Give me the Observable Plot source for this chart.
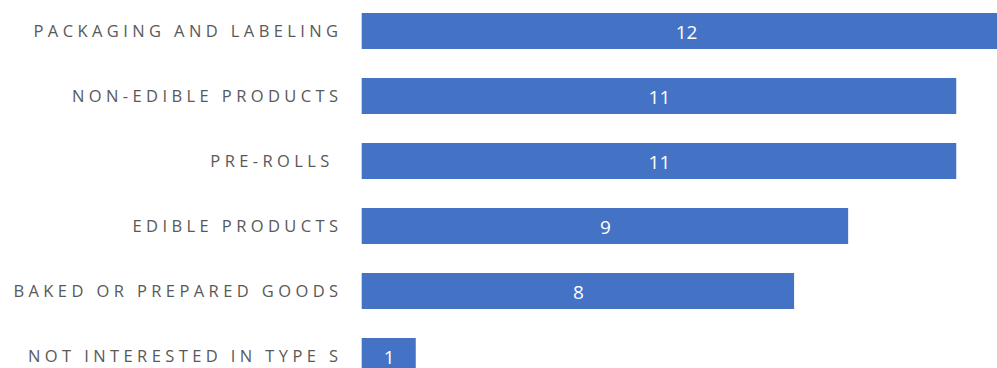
<!DOCTYPE html>
<html>
<head>
<meta charset="utf-8">
<script src="https://cdn.jsdelivr.net/npm/d3@7"></script>
<script src="https://cdn.jsdelivr.net/npm/@observablehq/plot@0.6"></script>
<style>
  html, body { margin: 0; padding: 0; background: #fff; overflow: hidden; }
  #chart svg { font-family: "Open Sans", sans-serif; }
  #chart g[aria-label="y-axis tick label"] text { letter-spacing: 4.4px; }
</style>
</head>
<body>
<div id="chart"></div>
<script>
const categories = [
  "PACKAGING AND LABELING",
  "NON-EDIBLE PRODUCTS",
  "PRE-ROLLS ",
  "EDIBLE PRODUCTS",
  "BAKED OR PREPARED GOODS",
  "NOT INTERESTED IN TYPE S"
];
const values = [12, 11, 11, 9, 8, 1];

const data = categories.map((c, i) => ({category: c, value: values[i]}));

const chart = Plot.plot({
  width: 997,
  height: 368,
  marginLeft: 362,
  marginRight: 0,
  marginTop: 0,
  marginBottom: 0,
  style: {fontFamily: "'Open Sans', sans-serif", background: "white", overflow: "hidden"},
  x: {domain: [0, 12], range: [361.7, 1010.3], axis: null},
  y: {domain: categories, range: [-1.6, 388.4], paddingInner: 0.44, paddingOuter: 0.22, label: null},
  marks: [
    Plot.barX(data, {x: "value", y: "category", fill: "#4472C4"}),
    Plot.text(data, {
      x: d => d.value / 2,
      y: "category",
      text: d => String(d.value),
      fill: "white",
      fontSize: 19,
      dy: 1
    }),
    Plot.axisY({
      tickSize: 0,
      tickPadding: 20,
      fontSize: 16.5,
      color: "#595959",
      label: null,
      dy: 0
    })
  ]
});
document.getElementById("chart").appendChild(chart);
</script>
</body>
</html>
